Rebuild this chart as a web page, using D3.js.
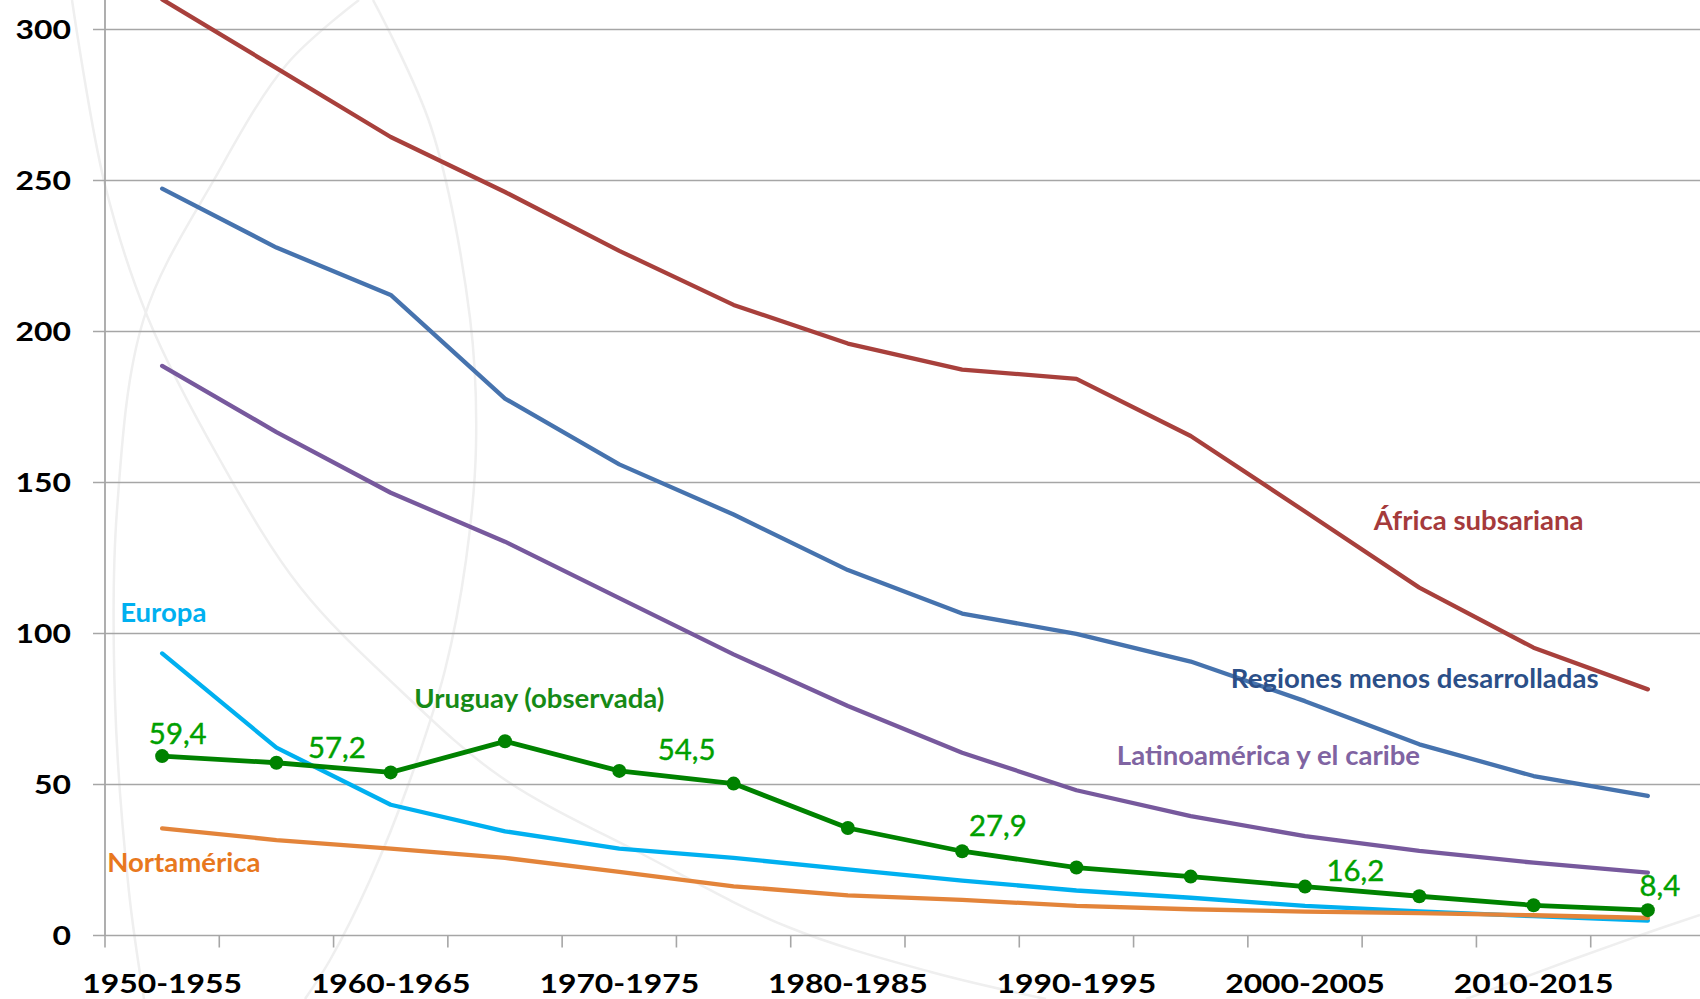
<!DOCTYPE html>
<meta charset="utf-8">
<title>Mortalidad infantil por regiones</title>
<style>
body {
  margin: 0;
  background: #fff;
}
svg {
  display: block;
}
text {
  font-family: Lato, "Open Sans", sans-serif;
}
.tick-label {
  font-size: 27px;
  font-weight: 700;
  fill: #000;
}
.series-label {
  font-size: 26px;
  font-weight: 700;
}
.value-label {
  font-size: 28px;
  font-weight: 400;
  fill: #00a000;
  stroke: #00a000;
  stroke-width: 0.4;
}
</style>
<body>
<svg id="chart" width="1700" height="999"></svg>

<script src="https://d3js.org/d3.v7.min.js"></script>
<script>

// Quinquenios
var categories = ["1950-1955", "1955-1960", "1960-1965", "1965-1970", "1970-1975",
  "1975-1980", "1980-1985", "1985-1990", "1990-1995", "1995-2000",
  "2000-2005", "2005-2010", "2010-2015", "2015-2020"];

// Series
var africa      = [310, 287.2, 264.4, 246.2, 226.7, 208.8, 196, 187.4, 184.3, 165.4, 140.4, 115.2, 95.3, 81.5];
var regiones    = [247.3, 227.8, 212.1, 177.8, 156, 139.4, 121, 106.6, 99.9, 90.7, 77.6, 63.3, 52.8, 46.2];
var latam       = [188.6, 166.7, 146.6, 130.4, 111.7, 93.1, 76, 60.5, 48.1, 39.5, 32.9, 28, 24.1, 20.8];
var europa      = [93.4, 62.2, 43.3, 34.5, 28.8, 25.7, 21.9, 18.2, 14.9, 12.5, 9.8, 8, 6.4, 4.9];
var nortamerica = [35.5, 31.6, 28.8, 25.7, 21.1, 16.3, 13.3, 11.8, 9.8, 8.7, 7.9, 7.4, 6.7, 5.8];
var uruguay     = [59.4, 57.2, 54.0, 64.3, 54.5, 50.3, 35.6, 27.9, 22.5, 19.5, 16.2, 13.0, 10.0, 8.4];

var yTicks = [0, 50, 100, 150, 200, 250, 300];

// which Uruguay points carry a value label
var uruguayLabelIdx = [0, 1, 4, 7, 10, 13];

var width = 1700,
    height = 999;

var svg = d3.select("#chart");

var x = d3.scaleBand()
    .domain(categories)
    .range([105, 1705])
    .paddingInner(0)
    .paddingOuter(0);

var y = d3.scaleLinear()
    .domain([0, 300])
    .range([935.5, 29.5]);

var cx = function(i) { return x(categories[i]) + x.bandwidth() / 2; };
// position at a fractional category index (used for annotations)
var xAt = function(f) { return x.range()[0] + f * x.step(); };

// faint watermark arcs in the background
var arcs = [
  [[72, 0], [105, 185], [148, 318], [220, 460], [300, 587], [400, 690], [501, 777], [644, 855], [788, 927], [931, 972], [1046, 999]],
  [[359, 0], [287, 64], [215, 178], [144, 318], [117, 510], [115, 700], [129, 892], [144, 999]],
  [[373, 0], [431, 127], [470, 318], [476, 446], [466, 560], [445, 670], [410, 780], [370, 880], [330, 960], [305, 999]],
  [[1466, 999], [1571, 960], [1641, 935], [1700, 915]]
];
svg.append("g")
    .selectAll("path")
    .data(arcs)
    .enter().append("path")
    .attr("d", d3.line().curve(d3.curveCatmullRom))
    .attr("fill", "none")
    .attr("stroke", "#efefef")
    .attr("stroke-width", 2.5);

// grid lines + y ticks
var grid = svg.append("g");
grid.selectAll("line")
    .data(yTicks)
    .enter().append("line")
    .attr("x1", 93)
    .attr("x2", width)
    .attr("y1", function(d) { return y(d); })
    .attr("y2", function(d) { return y(d); })
    .attr("stroke", "#a6a6a6")
    .attr("stroke-width", 1.6);

// y axis line (runs up past the top of the frame)
svg.append("line")
    .attr("x1", 105).attr("x2", 105)
    .attr("y1", 0).attr("y2", y(0))
    .attr("stroke", "#a6a6a6")
    .attr("stroke-width", 1.8);

// x ticks on the category boundaries
var bounds = d3.range(categories.length + 1);
svg.append("g")
    .selectAll("line")
    .data(bounds)
    .enter().append("line")
    .attr("x1", function(i) { return xAt(i); })
    .attr("x2", function(i) { return xAt(i); })
    .attr("y1", y(0))
    .attr("y2", y(0) + 12)
    .attr("stroke", "#a6a6a6")
    .attr("stroke-width", 1.6);

// y tick labels
svg.append("g")
    .selectAll("text")
    .data(yTicks)
    .enter().append("text")
    .attr("class", "tick-label")
    .attr("text-anchor", "end")
    .attr("transform", function(d) { return "translate(71," + (y(d) + 9.7) + ") scale(1.18,1)"; })
    .text(function(d) { return d; });

// x tick labels, every other category
svg.append("g")
    .selectAll("text")
    .data(categories.filter(function(c, i) { return i % 2 === 0; }))
    .enter().append("text")
    .attr("class", "tick-label")
    .attr("text-anchor", "middle")
    .attr("transform", function(c) { return "translate(" + (x(c) + x.bandwidth() / 2) + ",993) scale(1.18,1)"; })
    .text(function(c) { return c; });

// lines
var series = [
  {name: "africa", values: africa, color: "#a8403c"},
  {name: "regiones", values: regiones, color: "#4673ae"},
  {name: "latam", values: latam, color: "#77599d"},
  {name: "europa", values: europa, color: "#00b0f0"},
  {name: "nortamerica", values: nortamerica, color: "#e3843a"},
  {name: "uruguay", values: uruguay, color: "#008200"}
];

var line = d3.line()
    .x(function(d, i) { return cx(i); })
    .y(function(d) { return y(d); });

svg.append("g")
    .selectAll("path")
    .data(series)
    .enter().append("path")
    .attr("d", function(s) { return line(s.values); })
    .attr("fill", "none")
    .attr("stroke", function(s) { return s.color; })
    .attr("stroke-width", function(s) { return s.name === "uruguay" ? 4.8 : 4.3; })
    .attr("stroke-linejoin", "round")
    .attr("stroke-linecap", "round");

// Uruguay markers
svg.append("g")
    .selectAll("circle")
    .data(uruguay)
    .enter().append("circle")
    .attr("cx", function(d, i) { return cx(i); })
    .attr("cy", function(d) { return y(d); })
    .attr("r", 7)
    .attr("fill", "#008200");

// value labels, nudged off their points the way they were placed by hand
var labelNudge = [[15.6, -12], [60.5, -4.5], [67.4, -11], [35.7, -15], [50.3, -6], [12, -14]];
svg.append("g")
    .selectAll("text")
    .data(uruguayLabelIdx)
    .enter().append("text")
    .attr("class", "value-label")
    .attr("text-anchor", "middle")
    .attr("transform", function(i, k) {
      return "translate(" + (cx(i) + labelNudge[k][0]) + "," + (y(uruguay[i]) + labelNudge[k][1]) + ") scale(1.05,1)";
    })
    .text(function(i) { return d3.format(".1f")(uruguay[i]).replace(".", ","); });

// series names, anchored at (fractional category index, value)
var seriesNames = [
  {text: "África subsariana", at: [12.02, 134.3], color: "#a53a3b"},
  {text: "Regiones menos desarrolladas", at: [11.46, 82], color: "#2b4f88"},
  {text: "Latinoamérica y el caribe", at: [10.18, 56.5], color: "#8064a2"},
  {text: "Europa", at: [0.51, 103.8], color: "#00b0f0"},
  {text: "Nortamérica", at: [0.69, 21.1], color: "#e8781e"},
  {text: "Uruguay (observada)", at: [3.80, 75.2], color: "#168a16"}
];
svg.append("g")
    .selectAll("text")
    .data(seriesNames)
    .enter().append("text")
    .attr("class", "series-label")
    .attr("text-anchor", "middle")
    .attr("transform", function(d) {
      return "translate(" + xAt(d.at[0]) + "," + y(d.at[1]) + ") scale(1.06,1)";
    })
    .attr("fill", function(d) { return d.color; })
    .text(function(d) { return d.text; });

</script>
</body>
